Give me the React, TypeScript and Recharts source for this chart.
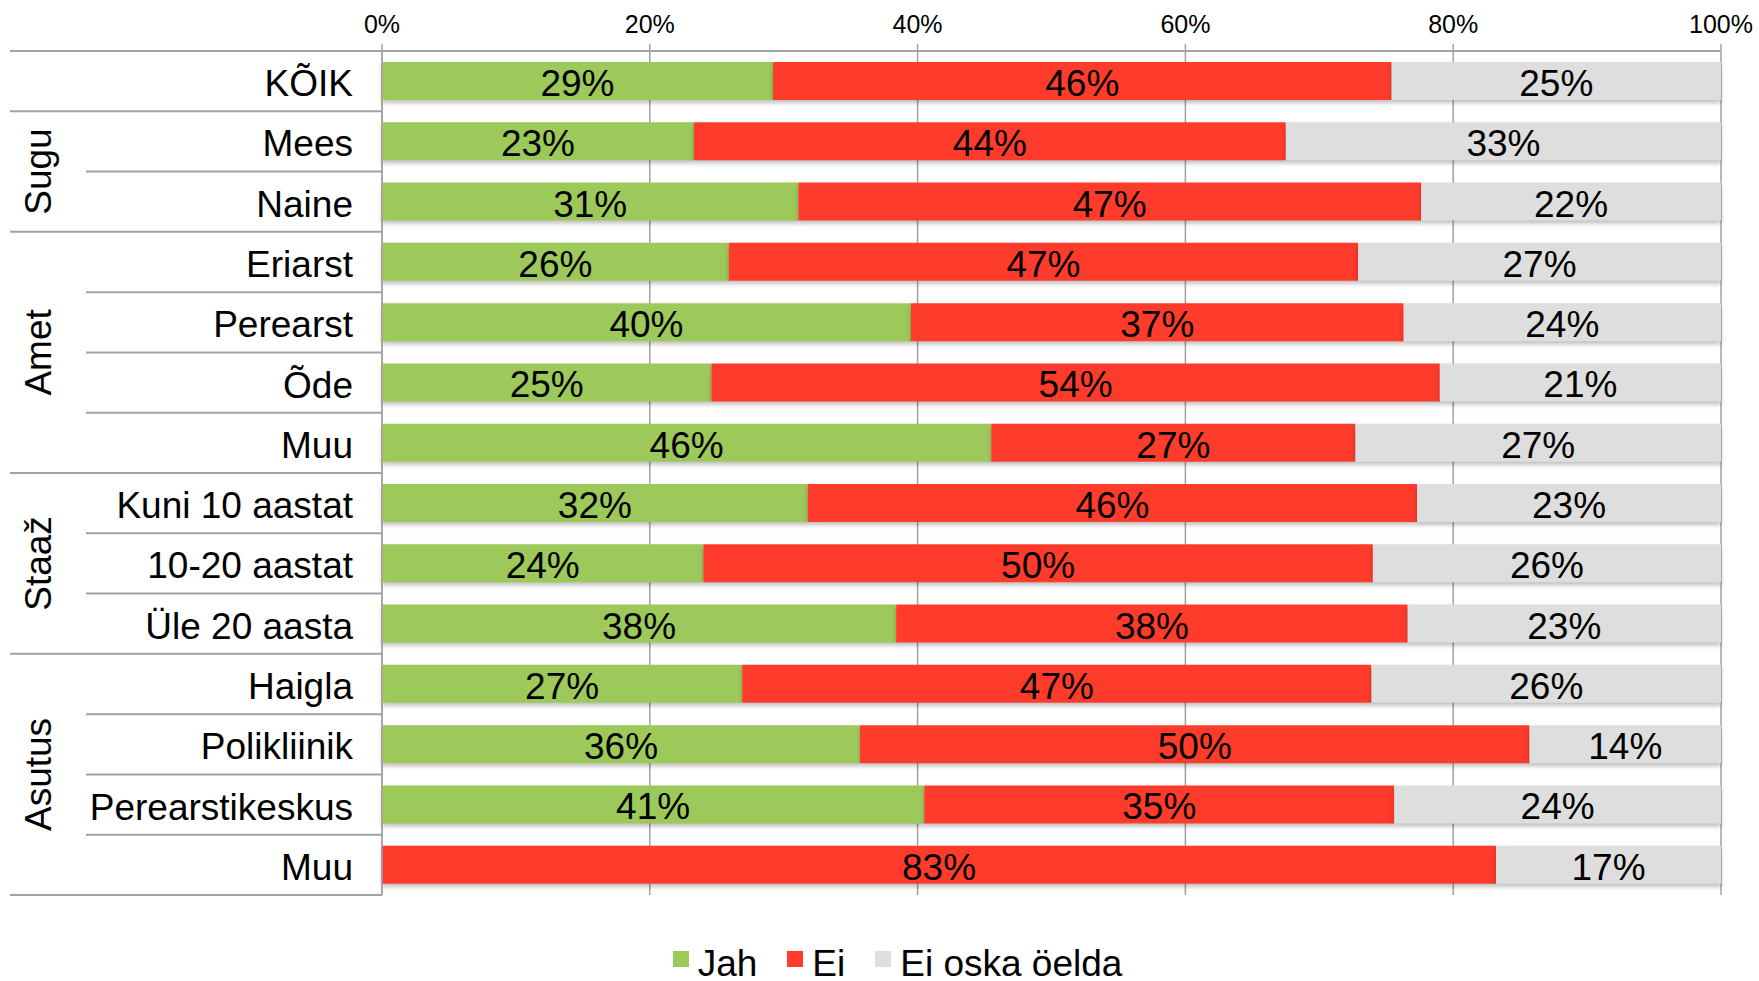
import React from "react"
import { BarChart, Bar, XAxis, YAxis, CartesianGrid, Legend, LabelList } from "recharts"

// rows, top to bottom
const categories = [
  "KÕIK",
  "Mees",
  "Naine",
  "Eriarst",
  "Perearst",
  "Õde",
  "Muu",
  "Kuni 10 aastat",
  "10-20 aastat",
  "Üle 20 aasta",
  "Haigla",
  "Polikliinik",
  "Perearstikeskus",
  "Muu",
]

// shares (labels show them rounded)
const jah = [29.2, 23.3, 31.1, 25.9, 39.5, 24.6, 45.5, 31.8, 24.0, 38.4, 26.9, 35.7, 40.5, 0]
const ei = [46.2, 44.2, 46.5, 47.0, 36.8, 54.4, 27.2, 45.5, 50.0, 38.2, 47.0, 50.0, 35.1, 83.2]
const eiOska = [24.6, 32.5, 22.4, 27.1, 23.7, 21.0, 27.3, 22.7, 26.0, 23.4, 26.1, 14.3, 24.4, 16.8]

// group labels on the left, with how many rows each one covers
const groupLabels = ["", "Sugu", "Amet", "Staaž", "Asutus"]
const groupSizes = [1, 2, 4, 3, 4]

const xTicks = [0, 0.2, 0.4, 0.6, 0.8, 1]

const seriesKeys = ["jah", "ei", "eiOska"]
const seriesNames = ["Jah", "Ei", "Ei oska öelda"]
const seriesColors = ["#9DC95B", "#FF3B2B", "#DEDEDE"]
const seriesValues = [jah, ei, eiOska]

const W = 1759
const H = 981
const AXIS_H = 51
const LEFT_W = 382
const RIGHT_M = 38
const LEGEND_H = 86
const PLOT_H = H - AXIS_H - LEGEND_H
const ROW_H = PLOT_H / categories.length
const FONT = '"Liberation Sans", Arial, Helvetica, sans-serif'
const LINE = "#a2a2a2"

const data = categories.map((name, i) => ({
  row: String(i),
  name,
  jah: jah[i],
  ei: ei[i],
  eiOska: eiOska[i],
}))

function findGroup(i: number) {
  let start = 0
  for (let g = 0; g < groupSizes.length; g++) {
    if (i < start + groupSizes[g]) return { g, start }
    start += groupSizes[g]
  }
  return { g: groupSizes.length - 1, start: 0 }
}

function CategoryTick(props: any) {
  const { y, payload } = props
  const i = Number(payload.value)
  const top = y - ROW_H / 2
  const bottom = y + ROW_H / 2
  const { g, start } = findGroup(i)
  const isFirst = i === start
  const isLast = i === start + groupSizes[g] - 1

  return (
    <g>
      {i === 0 && <line x1={10} x2={LEFT_W} y1={top} y2={top} stroke={LINE} strokeWidth={2} />}
      <line x1={isLast ? 10 : 86} x2={LEFT_W} y1={bottom} y2={bottom} stroke={LINE} strokeWidth={2} />
      <text x={353} y={y + 15} textAnchor="end" fontSize={37} fontFamily={FONT} fill="#000">
        {categories[i]}
      </text>
      {isFirst && groupLabels[g] && (
        <text
          transform={`translate(51 ${top + (groupSizes[g] * ROW_H) / 2}) rotate(-90)`}
          textAnchor="middle"
          fontSize={37}
          fontFamily={FONT}
          fill="#000"
        >
          {groupLabels[g]}
        </text>
      )}
    </g>
  )
}

const makeLabel = (values: number[]) => (props: any) => {
  const x = Number(props.x)
  const y = Number(props.y)
  const width = Number(props.width)
  const height = Number(props.height)
  const v = values[props.index]
  if (!v) return null
  return (
    <text x={x + width / 2} y={y + height / 2 + 15} textAnchor="middle" fontSize={37} fontFamily={FONT} fill="#000">
      {Math.round(v)}%
    </text>
  )
}

const renderLegend = () => (
  <div
    style={{
      height: LEGEND_H,
      display: "flex",
      justifyContent: "center",
      alignItems: "flex-end",
      paddingLeft: 74,
      boxSizing: "border-box",
      position: "relative",
      top: -2,
      fontFamily: FONT,
      fontSize: 37,
      lineHeight: 0.8,
      color: "#000",
    }}
  >
    {seriesNames.map((n, i) => (
      <div key={n} style={{ display: "flex", alignItems: "center", marginRight: i < seriesNames.length - 1 ? 30 : 0 }}>
        <span
          style={{
            display: "inline-block",
            width: 16,
            height: 16,
            background: seriesColors[i],
            marginRight: 9,
            position: "relative",
            top: -5,
          }}
        />
        <span>{n}</span>
      </div>
    ))}
  </div>
)

export default function App() {
  return (
    <div style={{ position: "absolute", left: 0, top: 0, width: W, height: H, background: "#fff" }}>
      <style>{`.recharts-bar-rectangle path { filter: drop-shadow(0px 3px 2px rgba(0,0,0,0.25)); }`}</style>
      <BarChart
        width={W}
        height={H}
        data={data}
        layout="vertical"
        stackOffset="expand"
        margin={{ top: 0, right: RIGHT_M, bottom: 0, left: 0 }}
      >
        <CartesianGrid horizontal={false} stroke={LINE} strokeWidth={1.5} />
        <XAxis
          type="number"
          orientation="top"
          domain={[0, 1]}
          ticks={xTicks}
          interval={0}
          height={AXIS_H}
          tickSize={7}
          tickMargin={11}
          tickFormatter={(v: number) => `${Math.round(v * 100)}%`}
          tick={{ fontSize: 25, fontFamily: FONT, fill: "#000" }}
          axisLine={{ stroke: LINE, strokeWidth: 2 }}
          tickLine={{ stroke: LINE, strokeWidth: 1.5 }}
        />
        <YAxis
          type="category"
          dataKey="row"
          width={LEFT_W}
          interval={0}
          tickLine={false}
          axisLine={{ stroke: LINE, strokeWidth: 1.5 }}
          tick={<CategoryTick />}
        />
        <Legend verticalAlign="bottom" height={LEGEND_H} content={renderLegend} />
        {seriesKeys.map((k, i) => (
          <Bar
            key={k}
            dataKey={k}
            name={seriesNames[i]}
            stackId="a"
            fill={seriesColors[i]}
            barSize={38}
            isAnimationActive={false}
          >
            <LabelList dataKey={k} content={makeLabel(seriesValues[i])} />
          </Bar>
        ))}
      </BarChart>
    </div>
  )
}
